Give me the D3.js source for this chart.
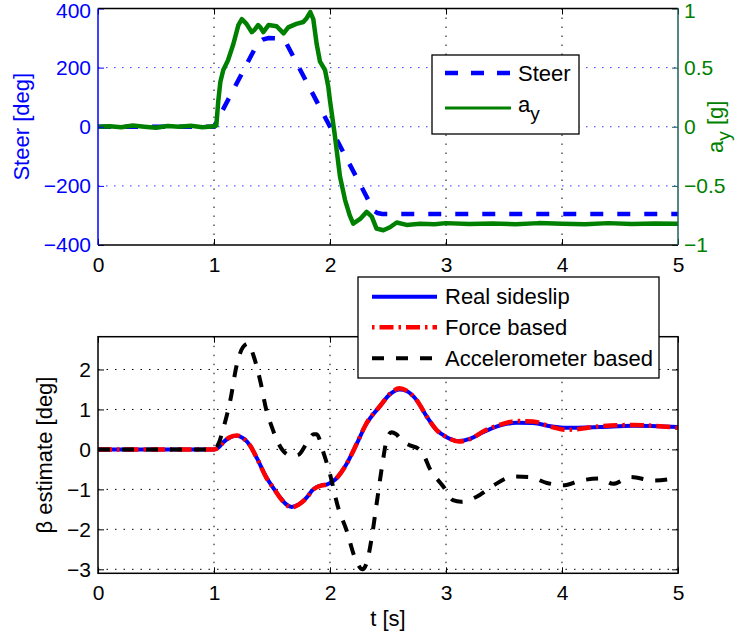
<!DOCTYPE html>
<html><head><meta charset="utf-8">
<script src="https://cdn.jsdelivr.net/npm/d3@7"></script>
<style>
body{margin:0;background:#fff;}
svg text{font-family:"Liberation Sans",Arial,Helvetica,sans-serif;}
</style>
</head><body>
<svg id="c" width="739" height="637"></svg>
<script>
// ---------- data ----------
const xTicks = [0, 1, 2, 3, 4, 5];
const steerTicks = [-400, -200, 0, 200, 400];
const ayTicks = [-1, -0.5, 0, 0.5, 1];
const betaTicks = [-3, -2, -1, 0, 1, 2];

const steerT = [0, 1.0, 1.38, 1.42, 1.47, 1.55, 1.59, 1.62, 2.38, 2.41, 2.45, 5];
const steerV = [0, 0, 285, 295, 300, 299, 292, 285, -285, -292, -295, -295];

const ayT = [0, 0.1, 0.2, 0.3, 0.4, 0.5, 0.6, 0.7, 0.8, 0.9, 1.0, 1.02, 1.037, 1.055, 1.08, 1.12, 1.167, 1.21, 1.24, 1.28, 1.325, 1.35, 1.38, 1.40, 1.425, 1.47, 1.54, 1.60, 1.64, 1.71, 1.77, 1.80, 1.83, 1.856, 1.885, 1.914, 1.957, 1.985, 2.0, 2.04, 2.086, 2.13, 2.17, 2.20, 2.26, 2.316, 2.36, 2.40, 2.46, 2.517, 2.575, 2.66, 2.776, 2.9, 3.0, 3.2, 3.4, 3.6, 3.8, 4.0, 4.2, 4.4, 4.6, 4.8, 5.0];
const ayV = [0, 0.005, -0.005, 0.01, 0, -0.008, 0.006, 0, 0.008, -0.004, 0.004, 0.01, 0.22, 0.38, 0.48, 0.56, 0.70, 0.86, 0.91, 0.87, 0.80, 0.82, 0.86, 0.84, 0.80, 0.86, 0.85, 0.79, 0.84, 0.87, 0.886, 0.92, 0.97, 0.91, 0.70, 0.55, 0.48, 0.34, 0.22, -0.06, -0.42, -0.62, -0.75, -0.82, -0.78, -0.72, -0.76, -0.86, -0.875, -0.85, -0.81, -0.83, -0.82, -0.825, -0.815, -0.822, -0.818, -0.825, -0.815, -0.82, -0.825, -0.815, -0.822, -0.818, -0.82];

const betaT = [0, 0.5, 0.97, 1.0, 1.04, 1.08, 1.14, 1.195, 1.25, 1.31, 1.37, 1.45, 1.52, 1.57, 1.62, 1.67, 1.73, 1.80, 1.85, 1.885, 1.93, 1.97, 2.05, 2.14, 2.23, 2.31, 2.43, 2.52, 2.60, 2.66, 2.75, 2.83, 2.92, 3.01, 3.11, 3.21, 3.32, 3.47, 3.61, 3.75, 3.90, 4.04, 4.33, 4.61, 5.0];
const realV = [0, 0, 0, 0, 0.05, 0.18, 0.30, 0.34, 0.28, 0.10, -0.22, -0.69, -1.0, -1.2, -1.37, -1.44, -1.38, -1.2, -1.02, -0.94, -0.90, -0.88, -0.74, -0.38, 0.14, 0.62, 1.08, 1.39, 1.50, 1.46, 1.22, 0.84, 0.48, 0.30, 0.21, 0.27, 0.43, 0.60, 0.67, 0.66, 0.58, 0.54, 0.56, 0.59, 0.56];
const forceV = [0, 0, 0, 0, 0.05, 0.18, 0.31, 0.35, 0.28, 0.10, -0.22, -0.70, -1.0, -1.21, -1.38, -1.45, -1.38, -1.21, -1.02, -0.95, -0.90, -0.88, -0.74, -0.38, 0.14, 0.63, 1.08, 1.40, 1.53, 1.47, 1.22, 0.84, 0.48, 0.30, 0.20, 0.26, 0.45, 0.62, 0.71, 0.70, 0.57, 0.49, 0.58, 0.61, 0.54];

const accT = [0, 0.5, 0.97, 1.0, 1.04, 1.08, 1.14, 1.195, 1.25, 1.295, 1.34, 1.40, 1.45, 1.50, 1.55, 1.60, 1.67, 1.73, 1.80, 1.86, 1.885, 1.94, 2.0, 2.07, 2.14, 2.22, 2.28, 2.32, 2.36, 2.40, 2.45, 2.49, 2.53, 2.57, 2.62, 2.69, 2.76, 2.80, 2.86, 2.98, 3.06, 3.13, 3.26, 3.41, 3.58, 3.72, 3.87, 4.01, 4.16, 4.33, 4.44, 4.59, 4.79, 5.0];
const accV = [0, 0, 0, 0, 0.15, 0.52, 1.22, 2.1, 2.56, 2.65, 2.35, 1.7, 1.0, 0.55, 0.18, -0.05, -0.16, -0.13, 0.16, 0.38, 0.38, -0.05, -0.62, -1.45, -2.0, -2.75, -3.0, -2.8, -2.2, -1.4, -0.4, 0.25, 0.43, 0.38, 0.22, 0.10, 0.02, -0.1, -0.48, -0.94, -1.27, -1.31, -1.19, -0.90, -0.68, -0.69, -0.84, -0.90, -0.78, -0.73, -0.86, -0.69, -0.78, -0.71];

// ---------- layout ----------
const svg = d3.select('#c');
const L = 98, R = 678;
const T1 = 8.5, B1 = 245;
const T2 = 336.7, B2 = 573.3;
const FS = 21, FL = 22;

const x = d3.scaleLinear().domain([0, 5]).range([L, R]);
const ySteer = d3.scaleLinear().domain([-400, 400]).range([B1, T1]);
const yAy = d3.scaleLinear().domain([-1, 1]).range([B1, T1]);
const yBeta = d3.scaleLinear().domain([-3.1, 2.82]).range([B2, T2]);

const fmt = d3.format('');
const BLUE = '#0000ff', GREEN = '#008000', RIGHTAX = '#1c5f5a';

function styleAxis(g, color) {
  g.select('.domain').remove();
  g.selectAll('.tick line').attr('stroke', color);
  g.selectAll('.tick text').attr('fill', color).attr('font-size', FS).attr('font-family', '"Liberation Sans",Arial,sans-serif');
}
function nudgeTop(g, topVal) {
  g.selectAll('.tick').filter(d => d === topVal).select('text').attr('dy', '0.42em');
}

// ---------- top plot ----------
const topG = svg.append('g');
topG.append('g').selectAll('line').data(steerTicks.filter(d => d > -400 && d < 400)).join('line')
  .attr('x1', L).attr('x2', R).attr('y1', d => ySteer(d)).attr('y2', d => ySteer(d))
  .attr('stroke', BLUE).attr('stroke-width', 1).attr('stroke-dasharray', '1.5,6.5').attr('opacity', 0.8);
topG.append('g').selectAll('line').data(xTicks.filter(d => d > 0 && d < 5)).join('line')
  .attr('x1', d => x(d)).attr('x2', d => x(d)).attr('y1', T1).attr('y2', B1)
  .attr('stroke', '#000').attr('stroke-width', 1).attr('stroke-dasharray', '1.5,7.5');

svg.append('clipPath').attr('id', 'clip1').append('rect').attr('x', L).attr('y', T1).attr('width', R - L).attr('height', B1 - T1);
svg.append('clipPath').attr('id', 'clip2').append('rect').attr('x', L).attr('y', T2).attr('width', R - L).attr('height', B2 - T2);

const lineSteer = d3.line().x((d, i) => x(steerT[i])).y(d => ySteer(d));
topG.append('path').datum(steerV).attr('clip-path', 'url(#clip1)').attr('d', lineSteer)
  .attr('fill', 'none').attr('stroke', BLUE).attr('stroke-width', 4.5).attr('stroke-dasharray', '13,14');
const lineAy = d3.line().x((d, i) => x(ayT[i])).y(d => yAy(d));
topG.append('path').datum(ayV).attr('clip-path', 'url(#clip1)').attr('d', lineAy)
  .attr('fill', 'none').attr('stroke', GREEN).attr('stroke-width', 4.5).attr('stroke-linejoin', 'round');

topG.append('g').attr('transform', `translate(0,${B1})`)
  .call(d3.axisBottom(x).tickValues(xTicks).tickFormat(fmt).tickSizeInner(-6).tickSizeOuter(0).tickPadding(12))
  .call(g => styleAxis(g, '#000'));
topG.append('g').attr('transform', `translate(0,${T1})`)
  .call(d3.axisTop(x).tickValues(xTicks).tickFormat('').tickSizeInner(-6).tickSizeOuter(0))
  .call(g => styleAxis(g, '#000'));
topG.append('g').attr('transform', `translate(${L},0)`)
  .call(d3.axisLeft(ySteer).tickValues(steerTicks).tickFormat(fmt).tickSizeInner(-6).tickSizeOuter(0).tickPadding(7))
  .call(g => { styleAxis(g, BLUE); nudgeTop(g, 400); });
topG.append('g').attr('transform', `translate(${R},0)`)
  .call(d3.axisRight(yAy).tickValues(ayTicks).tickFormat(fmt).tickSizeInner(-6).tickSizeOuter(0).tickPadding(6))
  .call(g => { styleAxis(g, RIGHTAX); g.selectAll('.tick text').attr('fill', GREEN); nudgeTop(g, 1); });
topG.append('line').attr('x1', L).attr('x2', R).attr('y1', T1).attr('y2', T1).attr('stroke', '#000').attr('stroke-width', 1.5);
topG.append('line').attr('x1', L).attr('x2', R).attr('y1', B1).attr('y2', B1).attr('stroke', '#000').attr('stroke-width', 1.5);
topG.append('line').attr('x1', L).attr('x2', L).attr('y1', T1).attr('y2', B1).attr('stroke', BLUE).attr('stroke-width', 1.5);
topG.append('line').attr('x1', R).attr('x2', R).attr('y1', T1).attr('y2', B1).attr('stroke', RIGHTAX).attr('stroke-width', 1.5);

svg.append('text').attr('transform', `translate(29,${(T1 + B1) / 2}) rotate(-90)`).attr('text-anchor', 'middle')
  .attr('font-size', FL).attr('fill', BLUE).text('Steer [deg]');
const ayl = svg.append('text').attr('transform', `translate(723,${(T1 + B1) / 2}) rotate(-90)`).attr('text-anchor', 'middle')
  .attr('font-size', FL).attr('fill', GREEN);
ayl.append('tspan').text('a');
ayl.append('tspan').attr('dy', 7).attr('font-size', 19).text('y');
ayl.append('tspan').attr('dy', -7).text(' [g]');

const lg1 = svg.append('g');
lg1.append('rect').attr('x', 432).attr('y', 55).attr('width', 147).attr('height', 79).attr('fill', '#fff').attr('stroke', '#000').attr('stroke-width', 1.3);
lg1.append('line').attr('x1', 445).attr('x2', 511).attr('y1', 73).attr('y2', 73).attr('stroke', BLUE).attr('stroke-width', 4.5).attr('stroke-dasharray', '13,13');
lg1.append('line').attr('x1', 445).attr('x2', 511).attr('y1', 108).attr('y2', 108).attr('stroke', GREEN).attr('stroke-width', 3);
lg1.append('text').attr('x', 518).attr('y', 81).attr('font-size', FL).text('Steer');
const lt = lg1.append('text').attr('x', 518).attr('y', 112).attr('font-size', FL);
lt.append('tspan').text('a');
lt.append('tspan').attr('dy', 8).attr('font-size', 19).text('y');

// ---------- bottom plot ----------
const botG = svg.append('g');
botG.append('g').selectAll('line').data(betaTicks).join('line')
  .attr('x1', L).attr('x2', R).attr('y1', d => yBeta(d)).attr('y2', d => yBeta(d))
  .attr('stroke', '#000').attr('stroke-width', 1).attr('stroke-dasharray', '1.5,7');
botG.append('g').selectAll('line').data(xTicks.filter(d => d > 0 && d < 5)).join('line')
  .attr('x1', d => x(d)).attr('x2', d => x(d)).attr('y1', T2).attr('y2', B2)
  .attr('stroke', '#000').attr('stroke-width', 1).attr('stroke-dasharray', '1.5,7.5');

const lineBeta = ts => d3.line().x((d, i) => x(ts[i])).y(d => yBeta(d)).curve(d3.curveMonotoneX);
botG.append('path').datum(realV).attr('clip-path', 'url(#clip2)').attr('d', lineBeta(betaT))
  .attr('fill', 'none').attr('stroke', BLUE).attr('stroke-width', 4);
botG.append('path').datum(forceV).attr('clip-path', 'url(#clip2)').attr('d', lineBeta(betaT))
  .attr('fill', 'none').attr('stroke', '#ff0000').attr('stroke-width', 4.5).attr('stroke-dasharray', '14,5,2.5,5');
botG.append('path').datum(accV).attr('clip-path', 'url(#clip2)').attr('d', lineBeta(accT))
  .attr('fill', 'none').attr('stroke', '#000').attr('stroke-width', 4).attr('stroke-dasharray', '12,12');

botG.append('g').attr('transform', `translate(0,${B2})`)
  .call(d3.axisBottom(x).tickValues(xTicks).tickFormat(fmt).tickSizeInner(-6).tickSizeOuter(0).tickPadding(12))
  .call(g => styleAxis(g, '#000'));
botG.append('g').attr('transform', `translate(0,${T2})`)
  .call(d3.axisTop(x).tickValues(xTicks).tickFormat('').tickSizeInner(-6).tickSizeOuter(0))
  .call(g => styleAxis(g, '#000'));
botG.append('g').attr('transform', `translate(${L},0)`)
  .call(d3.axisLeft(yBeta).tickValues(betaTicks).tickFormat(fmt).tickSizeInner(-6).tickSizeOuter(0).tickPadding(7))
  .call(g => styleAxis(g, '#000'));
botG.append('g').attr('transform', `translate(${R},0)`)
  .call(d3.axisRight(yBeta).tickValues(betaTicks).tickFormat('').tickSizeInner(-6).tickSizeOuter(0))
  .call(g => styleAxis(g, '#000'));
botG.append('rect').attr('x', L).attr('y', T2).attr('width', R - L).attr('height', B2 - T2)
  .attr('fill', 'none').attr('stroke', '#000').attr('stroke-width', 1.5);

svg.append('text').attr('x', (L + R) / 2).attr('y', 626).attr('text-anchor', 'middle').attr('font-size', FL).text('t [s]');
svg.append('text').attr('transform', `translate(52,${(T2 + B2) / 2}) rotate(-90)`).attr('text-anchor', 'middle')
  .attr('font-size', FL).text('β estimate [deg]');

const lg2 = svg.append('g');
lg2.append('rect').attr('x', 358).attr('y', 277).attr('width', 301).attr('height', 101).attr('fill', '#fff').attr('stroke', '#000').attr('stroke-width', 1.3);
const rows = [
  {name: 'Real sideslip', color: BLUE, dash: null, w: 4, y: 296.7},
  {name: 'Force based', color: '#ff0000', dash: '2.5,5,14,5', w: 4.5, y: 327.3},
  {name: 'Accelerometer based', color: '#000', dash: '12,12', w: 4, y: 358.3}
];
rows.forEach(r => {
  lg2.append('line').attr('x1', 372).attr('x2', 437).attr('y1', r.y).attr('y2', r.y)
    .attr('stroke', r.color).attr('stroke-width', r.w).attr('stroke-dasharray', r.dash);
  lg2.append('text').attr('x', 445).attr('y', r.y + 7.5).attr('font-size', FL).text(r.name);
});
</script>
</body></html>
